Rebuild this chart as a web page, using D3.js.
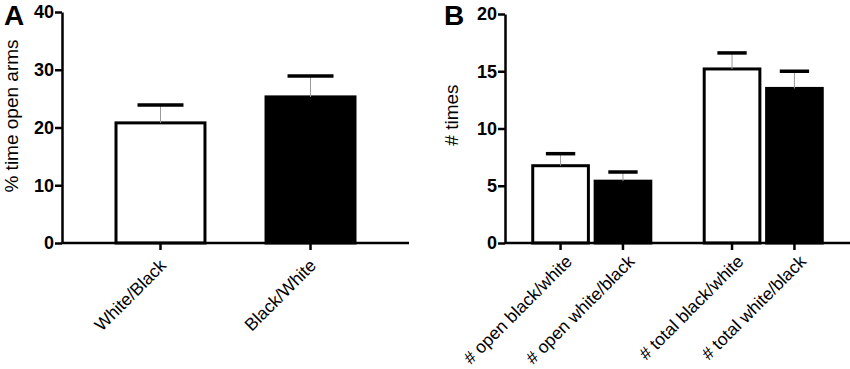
<!DOCTYPE html>
<html>
<head>
<meta charset="utf-8">
<script src="https://cdn.jsdelivr.net/npm/d3@7"></script>
<style>
  body { margin: 0; background: #fff; }
  svg { display: block; font-family: "Liberation Sans", Arial, sans-serif; }
  .axis path, .axis line { stroke: #000; stroke-width: 2.5; }
  .axis text { font-weight: bold; font-size: 18px; fill: #000; }
</style>
</head>
<body>
<svg id="chart" width="850" height="369"></svg>
<script>
// Panel A data
const catsA = ["White/Black", "Black/White"];
const meanA = [20.8, 25.3];
const semA = [3.1, 3.6];
const ticksA = [0, 10, 20, 30, 40];

// Panel B data
const groupsB = ["open", "total"];
const catsB = ["# open black/white", "# open white/black", "# total black/white", "# total white/black"];
const meanB = [6.75, 5.4, 15.2, 13.5];
const semB = [1.05, 0.8, 1.4, 1.5];
const ticksB = [0, 5, 10, 15, 20];

const fills = ["#fff", "#000"];

const svg = d3.select("#chart");

function drawBars(g, rows, x, y, bw) {
    // bars
    g.selectAll("rect.bar")
        .data(rows)
        .enter().append("rect")
        .attr("class", "bar")
        .attr("x", d => x(d) + 1.5)
        .attr("width", bw - 3)
        .attr("y", d => y(d.mean))
        .attr("height", d => y(0) - y(d.mean))
        .attr("fill", d => d.fill)
        .attr("stroke", "#000")
        .attr("stroke-width", 3);

    // error stems (thin grey)
    g.selectAll("line.stem")
        .data(rows)
        .enter().append("line")
        .attr("x1", d => x(d) + bw / 2)
        .attr("x2", d => x(d) + bw / 2)
        .attr("y1", d => y(d.mean))
        .attr("y2", d => y(d.mean + d.sem))
        .attr("stroke", "#999")
        .attr("stroke-width", 1);

    // caps
    g.selectAll("line.cap")
        .data(rows)
        .enter().append("line")
        .attr("x1", d => x(d) + bw * 0.25)
        .attr("x2", d => x(d) + bw * 0.75)
        .attr("y1", d => y(d.mean + d.sem))
        .attr("y2", d => y(d.mean + d.sem))
        .attr("stroke", "#000")
        .attr("stroke-width", 3.5);
}

function drawAxes(g, x0, x1, y, ticks, tickXs, labels, labelDx, labelDy, ylabel, ylabelX, ylabelY, letter, letterX) {
    g.append("g")
        .attr("class", "axis")
        .attr("transform", `translate(${x0},0)`)
        .call(d3.axisLeft(y).tickValues(ticks).tickSize(7).tickSizeOuter(0).tickPadding(1));

    const xa = g.append("g").attr("class", "axis");
    xa.append("line")
        .attr("x1", x0).attr("x2", x1)
        .attr("y1", y(0)).attr("y2", y(0));
    xa.selectAll("line.tick")
        .data(tickXs)
        .enter().append("line")
        .attr("x1", d => d).attr("x2", d => d)
        .attr("y1", y(0)).attr("y2", y(0) + 7);

    g.selectAll("text.cat")
        .data(labels)
        .enter().append("text")
        .attr("class", "cat")
        .attr("transform", (d, i) => `translate(${tickXs[i] + labelDx},${y(0) + labelDy}) rotate(-45)`)
        .attr("text-anchor", "end")
        .attr("dy", "0.7em")
        .attr("font-size", 17.5)
        .text(d => d);

    g.append("text")
        .attr("transform", `translate(${ylabelX},${ylabelY}) rotate(-90)`)
        .attr("text-anchor", "middle")
        .attr("font-size", 19)
        .text(ylabel);

    g.append("text")
        .attr("x", letterX)
        .attr("y", 25)
        .attr("font-size", 28)
        .attr("font-weight", "bold")
        .text(letter);
}

// ---- Panel A ----
const gA = svg.append("g");
const yA = d3.scaleLinear().domain([0, 40]).range([243, 12]);
const xA = d3.scaleBand().domain(catsA).range([62, 409]).paddingInner(0.387).paddingOuter(0.35);
const rowsA = catsA.map((c, i) => ({ cat: c, mean: meanA[i], sem: semA[i], fill: fills[i] }));
drawBars(gA, rowsA, d => xA(d.cat), yA, xA.bandwidth());
drawAxes(gA, 62, 409, yA, ticksA, catsA.map(c => xA(c) + xA.bandwidth() / 2),
    catsA, -2, 15, "% time open arms", 18, 116, "A", 4);

// ---- Panel B ----
const gB = svg.append("g");
const yB = d3.scaleLinear().domain([0, 20]).range([243, 14]);
const xGroup = d3.scaleBand().domain(groupsB).range([505, 850]).paddingInner(0.294).paddingOuter(0.153);
const xSub = d3.scaleBand().domain([0, 1]).range([0, xGroup.bandwidth()]).paddingInner(0.06);
const rowsB = catsB.map((c, i) => ({ cat: c, group: groupsB[Math.floor(i / 2)], sub: i % 2, mean: meanB[i], sem: semB[i], fill: fills[i % 2] }));
const xB = d => xGroup(d.group) + xSub(d.sub);
drawBars(gB, rowsB, xB, yB, xSub.bandwidth());
drawAxes(gB, 505, 850, yB, ticksB, rowsB.map(d => xB(d) + xSub.bandwidth() / 2),
    catsB, 4, 11, "# times", 458, 115, "B", 444);
</script>
</body>
</html>
